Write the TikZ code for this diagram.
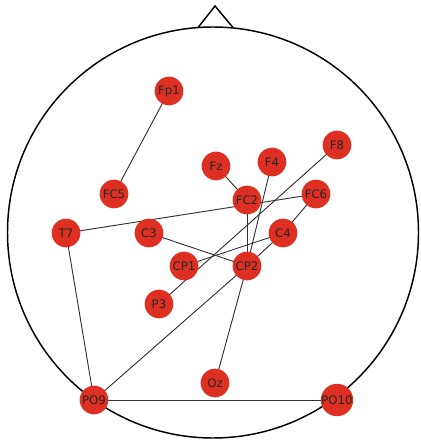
\documentclass[tikz,border=0pt]{standalone}
\usepackage{fontspec}
\setmainfont{DejaVu Sans}
\definecolor{nodered}{RGB}{222,48,34}
\pgfdeclarelayer{edges}
\pgfsetlayers{edges,main}
\begin{document}
\begin{tikzpicture}[x=0.75pt,y=-0.75pt,
  electrode/.style={circle,fill=nodered,draw=none,minimum size=21.5pt,inner sep=0pt,font=\fontsize{8.8pt}{10pt}\selectfont,text=black!85},
  link/.style={draw=black!80,line width=0.7pt},
  headline/.style={draw=black,line width=1.1pt}]
\useasboundingbox (0,0) rectangle (420,441);
\node[electrode] (Fp1) at (169,91) {Fp1};
\node[electrode] (FC5) at (114,194) {FC5};
\node[electrode] (Fz) at (216,166) {Fz};
\node[electrode] (F4) at (272,162) {F4};
\node[electrode] (F8) at (337,145) {F8};
\node[electrode] (FC2) at (247,200) {FC2};
\node[electrode] (FC6) at (316,194) {FC6};
\node[electrode] (T7) at (66,233) {T7};
\node[electrode] (C3) at (149,233) {C3};
\node[electrode] (C4) at (283,233) {C4};
\node[electrode] (CP1) at (184,266) {CP1};
\node[electrode] (CP2) at (247,266) {CP2};
\node[electrode] (P3) at (159,304) {P3};
\node[electrode] (Oz) at (215,383) {Oz};
\node[electrode] (PO9) at (94,400) {PO9};
\node[electrode] (PO10) at (337,400) {PO10};
\begin{pgfonlayer}{edges}
\draw[headline] (213,232.5) circle[radius=205.5*0.75pt];
\coordinate (nl) at (198,27.6);
\coordinate (nt) at (215,6);
\coordinate (nr) at (233,27.6);
\draw[headline,line join=miter] (nl) -- (nt) -- (nr);
\draw[link] (Fp1.center) -- (FC5.center);
\draw[link] (Fz.center) -- (FC2.center);
\draw[link] (F4.center) -- (CP2.center);
\draw[link] (F8.center) -- (P3.center);
\draw[link] (FC6.center) -- (T7.center);
\draw[link] (FC6.center) -- (C4.center);
\draw[link] (C4.center) -- (CP2.center);
\draw[link] (C4.center) -- (CP1.center);
\draw[link] (C3.center) -- (CP2.center);
\draw[link] (FC2.center) -- (CP2.center);
\draw[link] (CP2.center) -- (Oz.center);
\draw[link] (CP2.center) -- (PO9.center);
\draw[link] (T7.center) -- (PO9.center);
\draw[link] (PO9.center) -- (PO10.center);
\end{pgfonlayer}
\end{tikzpicture}
\end{document}
